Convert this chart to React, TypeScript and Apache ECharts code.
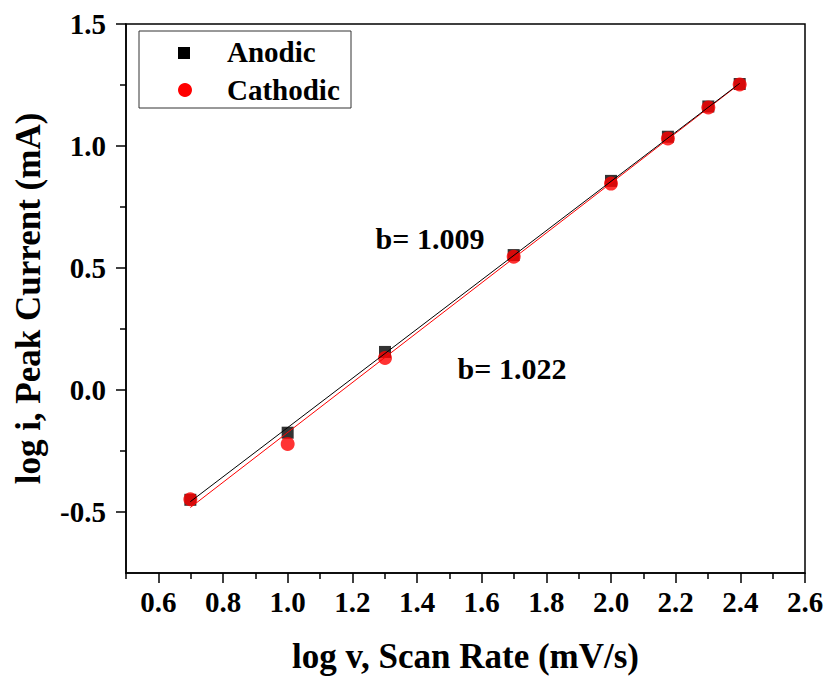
import React, { useEffect, useRef } from "react";
import * as echarts from "echarts";

const logScanRate = [0.699, 1.0, 1.301, 1.699, 2.0, 2.176, 2.301, 2.398];
const anodic = [-0.45, -0.175, 0.156, 0.553, 0.857, 1.038, 1.162, 1.254];
const cathodic = [-0.448, -0.221, 0.131, 0.546, 0.846, 1.031, 1.158, 1.252];
const fitSlopes = [1.009, 1.022];
const fitIntercepts = [-1.163, -1.196];
const fitRange = [0.699, 2.398];
const xMajorTicks = [0.6, 0.8, 1.0, 1.2, 1.4, 1.6, 1.8, 2.0, 2.2, 2.4, 2.6];
const xMinorTicks = [0.5, 0.7, 0.9, 1.1, 1.3, 1.5, 1.7, 1.9, 2.1, 2.3, 2.5];
const yMajorTicks = [-0.5, 0.0, 0.5, 1.0, 1.5];
const yMinorTicks = [-0.25, 0.25, 0.75, 1.25];

const FONT = '"Liberation Serif", "Times New Roman", serif';

export default function App() {
  const ref = useRef<HTMLDivElement>(null);
  useEffect(() => {
    if (!ref.current) return;
    const chart = echarts.init(ref.current, null, { renderer: "svg" });
    const fitLine = (i: number) =>
      fitRange.map((x) => [x, fitIntercepts[i] + fitSlopes[i] * x]);
    const labelStyle = {
      fontFamily: FONT,
      fontWeight: "bold" as const,
      fontSize: 29,
      color: "#000",
    };
    chart.setOption({
      animation: false,
      backgroundColor: "#fff",
      grid: {
        left: 126,
        right: 24,
        top: 24,
        bottom: 108,
        show: true,
        borderColor: "#000",
        borderWidth: 1.5,
        backgroundColor: "transparent",
      },
      xAxis: [
        {
          type: "value",
          min: 0.5,
          max: 2.6,
          position: "bottom",
          axisLine: { show: true, onZero: false, lineStyle: { color: "#000", width: 1.5 } },
          axisTick: {
            show: true,
            customValues: xMajorTicks,
            length: 10,
            inside: false,
            lineStyle: { color: "#000", width: 1.5 },
          },
          axisLabel: {
            customValues: xMajorTicks,
            formatter: (v: number) => v.toFixed(1),
            margin: 14,
            ...labelStyle,
          },
          splitLine: { show: false },
          name: "log v, Scan Rate (mV/s)",
          nameLocation: "middle",
          nameGap: 66,
          nameTextStyle: { ...labelStyle, fontSize: 35 },
        },
        {
          type: "value",
          min: 0.5,
          max: 2.6,
          position: "bottom",
          axisLine: { show: false, onZero: false },
          axisTick: {
            show: true,
            customValues: xMinorTicks,
            length: 6,
            lineStyle: { color: "#000", width: 1.5 },
          },
          axisLabel: { show: false },
          splitLine: { show: false },
        },
      ],
      yAxis: [
        {
          type: "value",
          min: -0.75,
          max: 1.5,
          position: "left",
          axisLine: { show: true, onZero: false, lineStyle: { color: "#000", width: 1.5 } },
          axisTick: {
            show: true,
            customValues: yMajorTicks,
            length: 10,
            lineStyle: { color: "#000", width: 1.5 },
          },
          axisLabel: {
            customValues: yMajorTicks,
            formatter: (v: number) => v.toFixed(1),
            margin: 20,
            ...labelStyle,
          },
          splitLine: { show: false },
          name: "log i, Peak Current (mA)",
          nameLocation: "middle",
          nameRotate: 90,
          nameGap: 80,
          nameTextStyle: { ...labelStyle, fontSize: 35 },
        },
        {
          type: "value",
          min: -0.75,
          max: 1.5,
          position: "left",
          axisLine: { show: false, onZero: false },
          axisTick: {
            show: true,
            customValues: yMinorTicks,
            length: 6,
            lineStyle: { color: "#000", width: 1.5 },
          },
          axisLabel: { show: false },
          splitLine: { show: false },
        },
      ],
      series: [
        {
          name: "Anodic",
          type: "scatter",
          symbol: "rect",
          symbolSize: 12,
          itemStyle: { color: "#000" },
          data: logScanRate.map((x, i) => [x, anodic[i]]),
          z: 2,
        },
        {
          name: "Cathodic",
          type: "scatter",
          symbol: "circle",
          symbolSize: 14,
          itemStyle: { color: "#ff0000" },
          data: logScanRate.map((x, i) => [x, cathodic[i]]),
          z: 3,
        },
        {
          name: "Cathodic fit",
          type: "line",
          showSymbol: false,
          symbol: "none",
          lineStyle: { color: "#ff0000", width: 1 },
          data: fitLine(1),
          z: 4,
        },
        {
          name: "Anodic fit",
          type: "line",
          showSymbol: false,
          symbol: "none",
          lineStyle: { color: "#000", width: 1 },
          data: fitLine(0),
          z: 5,
        },
      ],
      graphic: [
        {
          type: "rect",
          shape: { x: 139, y: 31, width: 212, height: 77 },
          style: { fill: "#fff", stroke: "#333", lineWidth: 1 },
          z: 10,
        },
        {
          type: "rect",
          shape: { x: 178, y: 47, width: 12, height: 12 },
          style: { fill: "#000" },
          z: 11,
        },
        {
          type: "circle",
          shape: { cx: 185, cy: 90, r: 7 },
          style: { fill: "#ff0000" },
          z: 11,
        },
        {
          type: "text",
          x: 227,
          y: 52,
          style: {
            text: "Anodic",
            font: `bold 29px ${FONT}`,
            fill: "#000",
            verticalAlign: "middle",
          },
          z: 11,
        },
        {
          type: "text",
          x: 227,
          y: 90,
          style: {
            text: "Cathodic",
            font: `bold 29px ${FONT}`,
            fill: "#000",
            verticalAlign: "middle",
          },
          z: 11,
        },
        {
          type: "text",
          x: 430,
          y: 238,
          style: {
            text: "b= 1.009",
            font: `bold 30px ${FONT}`,
            fill: "#000",
            align: "center",
            verticalAlign: "middle",
          },
          z: 11,
        },
        {
          type: "text",
          x: 512,
          y: 368,
          style: {
            text: "b= 1.022",
            font: `bold 30px ${FONT}`,
            fill: "#000",
            align: "center",
            verticalAlign: "middle",
          },
          z: 11,
        },
      ],
    });
    return () => chart.dispose();
  }, []);
  return (
    <div
      ref={ref}
      style={{ position: "absolute", left: 0, top: 0, width: 829, height: 681 }}
    />
  );
}
